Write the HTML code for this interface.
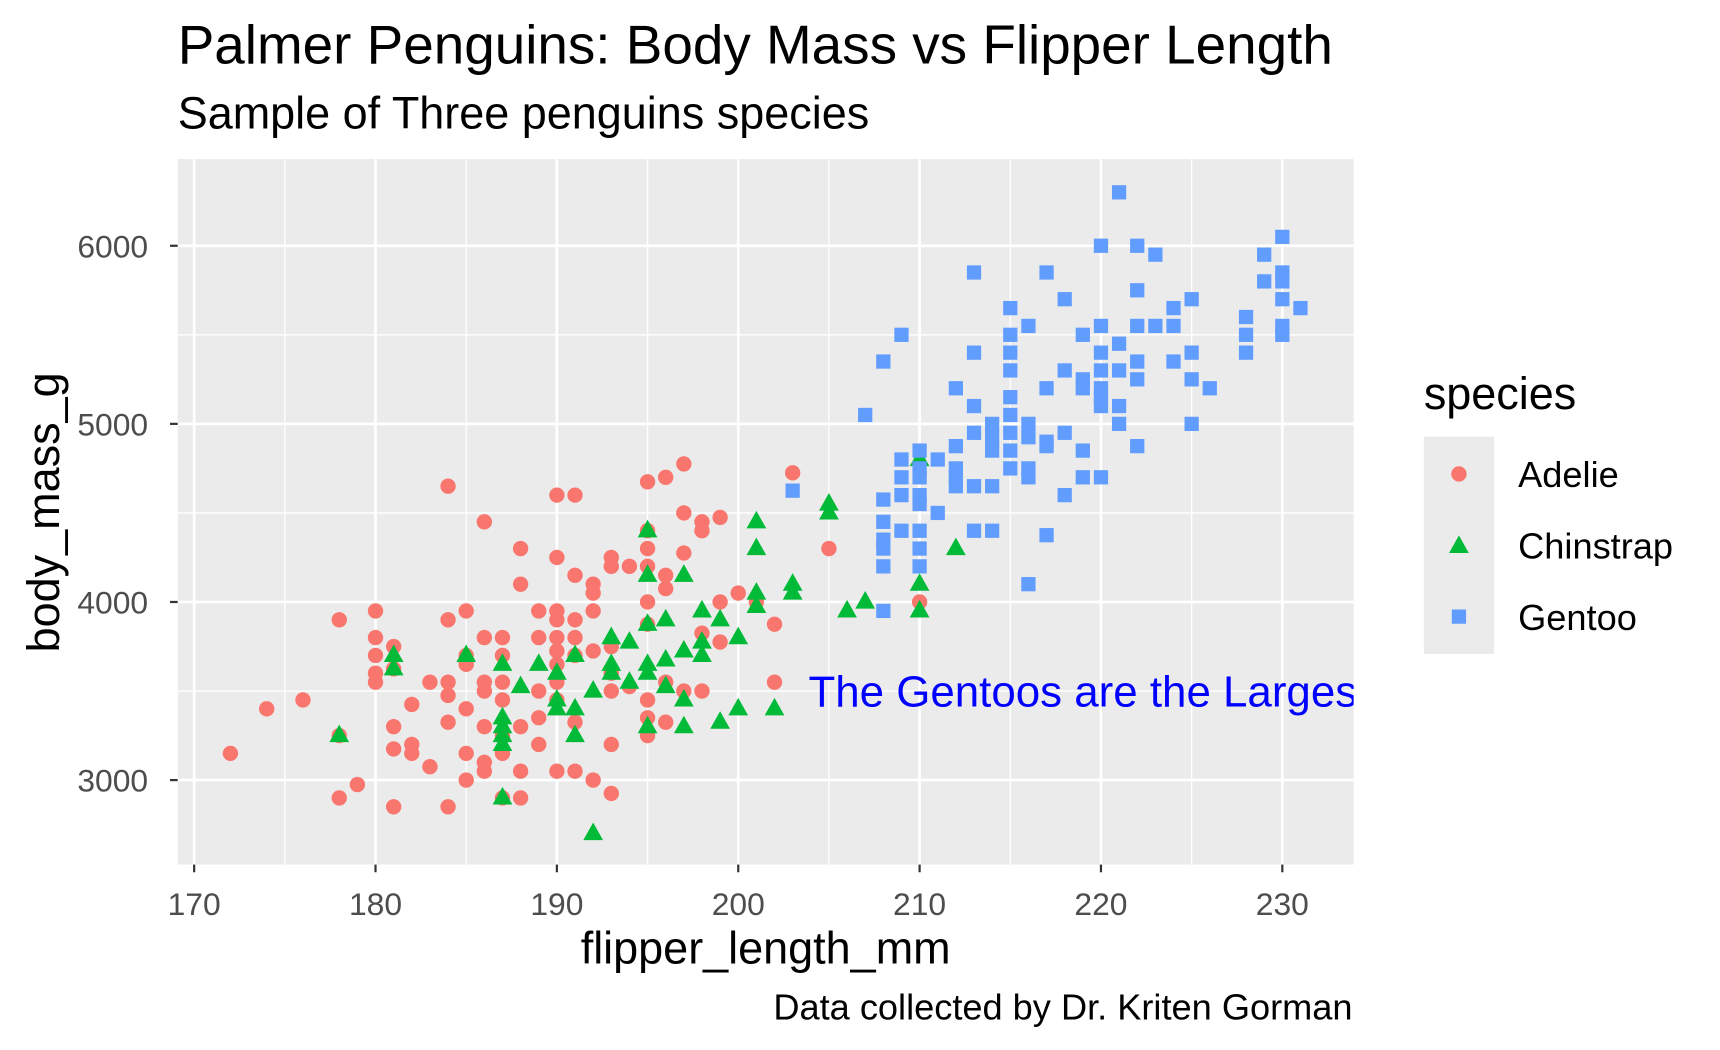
<!DOCTYPE html>
<html><head><meta charset="utf-8"><style>
html,body{margin:0;padding:0;background:#fff;}
svg{display:block;font-family:"Liberation Sans",Arial,sans-serif;}
</style></head><body>
<svg id="chart" width="1720" height="1050" viewBox="0 0 1568 957" preserveAspectRatio="none" xmlns="http://www.w3.org/2000/svg">
<defs><clipPath id="pclip"><rect x="162" y="145" width="1072" height="643"/></clipPath></defs>
<rect width="1568" height="957" fill="#fff"/>
<text x="162" y="58" font-size="50" fill="#000">Palmer Penguins: Body Mass vs Flipper Length</text>
<text x="162" y="117" font-size="41" fill="#000">Sample of Three penguins species</text>
<rect x="162" y="145" width="1072" height="643" fill="#ebebeb"/>
<g id="grid"></g>
<g id="pts" clip-path="url(#pclip)"></g>
<text clip-path="url(#pclip)" x="737" y="644" font-size="40" fill="#0000ff">The Gentoos are the Largest</text>
<g id="axes"></g>
<text x="698" y="878" font-size="41" text-anchor="middle">flipper_length_mm</text>
<text transform="translate(54,467) rotate(-90)" font-size="41" text-anchor="middle">body_mass_g</text>
<text x="1233" y="929" font-size="33" text-anchor="end">Data collected by Dr. Kriten Gorman</text>
<g>
<text x="1298" y="373" font-size="41">species</text>
<rect x="1298" y="398" width="64" height="198" fill="#ebebeb"/>
<circle cx="1330" cy="432" r="7" fill="#F8766D"/>
<polygon points="1330,488 1339,504 1321,504" fill="#00BA38"/>
<rect x="1323.5" y="555.5" width="13" height="13" fill="#619CFF"/>
<text x="1384" y="444" font-size="33">Adelie</text>
<text x="1384" y="509" font-size="33">Chinstrap</text>
<text x="1384" y="574" font-size="33">Gentoo</text>
</g>
</svg>
<script>
const xTicks=[170,180,190,200,210,220,230];
const xMinor=[175,185,195,205,215,225];
const yTicks=[3000,4000,5000,6000];
const yMinor=[2500,3500,4500,5500];
const adelie=[[172,3150],[174,3400],[176,3450],[178,3900],[178,2900],[178,3250],[179,2975],[180,3950],[180,3800],[180,3700],[180,3600],[180,3550],[181,3300],[181,3175],[181,2850],[181,3750],[181,3625],[182,3425],[182,3200],[182,3150],[183,3550],[183,3075],[184,4650],[184,3900],[184,3550],[184,3475],[184,3325],[184,2850],[185,3950],[185,3700],[185,3650],[185,3400],[185,3150],[185,3000],[186,4450],[186,3800],[186,3550],[186,3500],[186,3300],[186,3100],[186,3050],[187,3800],[187,3700],[187,3550],[187,3450],[187,3250],[187,3150],[187,2900],[188,4300],[188,4100],[188,3300],[188,3050],[188,2900],[189,3950],[189,3800],[189,3500],[189,3350],[189,3200],[190,4600],[190,4250],[190,3950],[190,3900],[190,3800],[190,3725],[190,3650],[190,3550],[190,3450],[190,3050],[191,4600],[191,4150],[191,3900],[191,3800],[191,3700],[191,3325],[191,3050],[192,4100],[192,4050],[192,3950],[192,3725],[192,3000],[193,4250],[193,4200],[193,3750],[193,3600],[193,3500],[193,3200],[193,2925],[194,4200],[194,3525],[195,4675],[195,4400],[195,4300],[195,4200],[195,4000],[195,3875],[195,3450],[195,3350],[195,3250],[196,4700],[196,4150],[196,4075],[196,3550],[196,3325],[197,4775],[197,4500],[197,4275],[197,3500],[198,4450],[198,4400],[198,3825],[198,3500],[199,4475],[199,4000],[199,3775],[200,4050],[201,4000],[202,3875],[202,3550],[203,4725],[205,4300],[210,4000]];
const chinstrap=[[178,3250],[181,3700],[181,3625],[185,3700],[187,3650],[187,3350],[187,3300],[187,3250],[187,3200],[187,2900],[188,3525],[189,3650],[190,3600],[190,3450],[190,3400],[191,3700],[191,3400],[191,3250],[192,3500],[192,2700],[193,3800],[193,3650],[193,3600],[194,3775],[194,3550],[195,4400],[195,4150],[195,3875],[195,3650],[195,3600],[195,3300],[196,3900],[196,3675],[196,3525],[197,4150],[197,3725],[197,3450],[197,3300],[198,3950],[198,3775],[198,3700],[199,3900],[199,3325],[200,3800],[200,3400],[201,4450],[201,4300],[201,4050],[201,3975],[202,3400],[203,4100],[203,4050],[205,4550],[205,4500],[206,3950],[207,4000],[210,4800],[210,4100],[210,3950],[212,4300]];
const gentoo=[[203,4625],[207,5050],[208,5350],[208,4575],[208,4450],[208,4350],[208,4300],[208,4200],[208,3950],[209,5500],[209,4800],[209,4700],[209,4600],[209,4400],[210,4850],[210,4750],[210,4700],[210,4600],[210,4550],[210,4400],[210,4300],[210,4200],[211,4800],[211,4500],[212,5200],[212,4875],[212,4750],[212,4700],[212,4650],[213,5850],[213,5400],[213,5100],[213,4950],[213,4650],[213,4400],[214,5000],[214,4925],[214,4850],[214,4650],[214,4400],[215,5650],[215,5500],[215,5400],[215,5300],[215,5150],[215,5050],[215,4950],[215,4850],[215,4750],[216,5550],[216,5000],[216,4925],[216,4750],[216,4700],[216,4100],[217,5850],[217,5200],[217,4900],[217,4875],[217,4375],[218,5700],[218,5300],[218,4950],[218,4600],[219,5500],[219,5250],[219,5200],[219,4850],[219,4700],[220,6000],[220,5550],[220,5400],[220,5300],[220,5200],[220,5150],[220,5100],[220,4700],[221,6300],[221,5450],[221,5300],[221,5100],[221,5000],[222,6000],[222,5750],[222,5550],[222,5350],[222,5250],[222,4875],[223,5950],[223,5550],[224,5650],[224,5550],[224,5350],[225,5700],[225,5400],[225,5250],[225,5000],[226,5200],[228,5600],[228,5500],[228,5400],[229,5950],[229,5800],[230,6050],[230,5850],[230,5800],[230,5700],[230,5550],[230,5500],[231,5650]];

const NS='http://www.w3.org/2000/svg';
function X(v){return 177+(v-170)*(1169-177)/60;}
function Y(v){return 711-(v-3000)*(711-224)/3000;}
function mk(tag,attrs,parent){const e=document.createElementNS(NS,tag);for(const k in attrs)e.setAttribute(k,attrs[k]);parent.appendChild(e);return e;}
const grid=document.getElementById('grid'),pts=document.getElementById('pts'),axes=document.getElementById('axes');
xMinor.forEach(v=>{const l=mk('line',{x1:X(v),x2:X(v),y1:145,y2:788,stroke:'#fff','stroke-width':1.2},grid);

});
yMinor.forEach(v=>{const l=mk('line',{x1:162,x2:1234,y1:Y(v),y2:Y(v),stroke:'#fff','stroke-width':1.2},grid);

});
xTicks.forEach(v=>{const l=mk('line',{x1:X(v),x2:X(v),y1:145,y2:788,stroke:'#fff','stroke-width':2.4},grid);


const t=mk('line',{x1:X(v),x2:X(v),y1:788,y2:795,stroke:'#333','stroke-width':2},axes);


const tx=mk('text',{x:X(v),y:834,'font-size':29,'text-anchor':'middle',fill:'#4d4d4d'},axes);tx.textContent=v;

});
yTicks.forEach(v=>{const l=mk('line',{x1:162,x2:1234,y1:Y(v),y2:Y(v),stroke:'#fff','stroke-width':2.4},grid);


const t=mk('line',{x1:155,x2:162,y1:Y(v),y2:Y(v),stroke:'#333','stroke-width':2},axes);


const tx=mk('text',{x:135,y:Y(v)+10.5,'font-size':29,'text-anchor':'end',fill:'#4d4d4d'},axes);tx.textContent=v;

});
adelie.forEach(d=>{const c=mk('circle',{cx:X(d[0]),cy:Y(d[1]),r:7,fill:'#F8766D'},pts);

});
chinstrap.forEach(d=>{const x=X(d[0]),y=Y(d[1]);const p=mk('polygon',{points:`${x},${y-10} ${x+9},${y+6} ${x-9},${y+6}`,fill:'#00BA38'},pts);

});
gentoo.forEach(d=>{const r=mk('rect',{x:X(d[0])-6.5,y:Y(d[1])-6.5,width:13,height:13,fill:'#619CFF'},pts);

});
</script>
</body></html>
